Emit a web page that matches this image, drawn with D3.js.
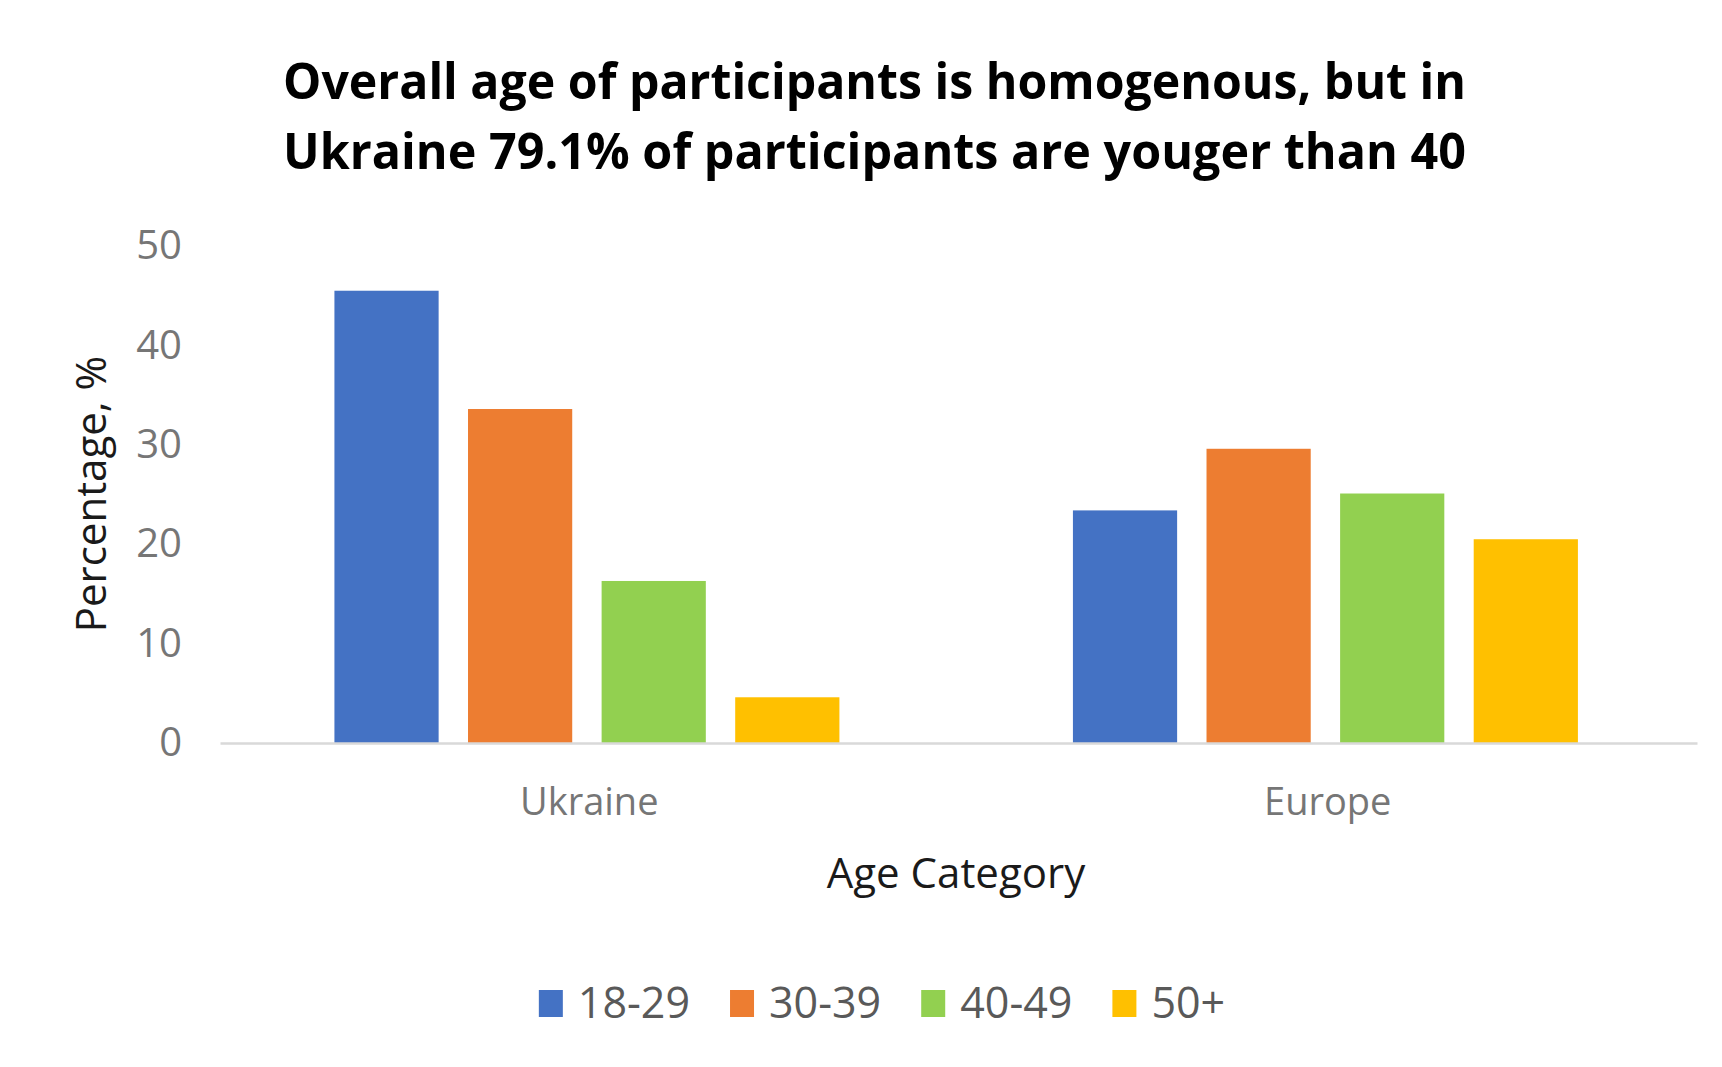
<!DOCTYPE html>
<html>
<head>
<meta charset="utf-8">
<script src="https://cdn.jsdelivr.net/npm/d3@7"></script>
<style>
  html, body { margin: 0; padding: 0; background: #fff; }
  svg { display: block; }
</style>
</head>
<body>
<script>
// ---- data ----
const categories = ["Ukraine", "Europe"];
const ageGroups = ["18-29", "30-39", "40-49", "50+"];
const ukraineValues = [45.5, 33.6, 16.3, 4.6];
const europeValues = [23.4, 29.6, 25.1, 20.5];
const yTickValues = [0, 10, 20, 30, 40, 50];
const titleLines = [
  "Overall age of participants is homogenous, but in",
  "Ukraine 79.1% of participants are youger than 40"
];
const yAxisTitle = "Percentage, %";
const xAxisTitle = "Age Category";
const seriesColors = ["#4472C4", "#ED7D31", "#92D050", "#FFC000"];

// ---- layout ----
const W = 1722, H = 1067;
const plot = { left: 220, right: 1697, top: 246, bottom: 743 };
const FONT = "'Open Sans', 'Noto Sans', sans-serif";

const rows = categories.map((c, i) => ({
  category: c,
  values: (i === 0 ? ukraineValues : europeValues)
}));

const svg = d3.select("body").append("svg")
  .attr("width", W).attr("height", H);

svg.append("rect").attr("width", W).attr("height", H).attr("fill", "#fff");

// title
svg.append("g").selectAll("text").data(titleLines).join("text")
  .attr("x", 874.5)
  .attr("y", (d, i) => 99 + i * 70)
  .attr("text-anchor", "middle")
  .attr("font-family", FONT)
  .attr("font-weight", 700)
  .attr("font-size", 50)
  .attr("fill", "#000")
  .attr("textLength", 1183)
  .attr("lengthAdjust", "spacingAndGlyphs")
  .text(d => d);

// scales
const y = d3.scaleLinear().domain([0, 50]).range([plot.bottom, plot.top]);
const x0 = d3.scaleBand().domain(categories).range([plot.left, plot.right])
  .paddingInner(0).paddingOuter(0);
const x1 = d3.scaleBand().domain(ageGroups).range([0, x0.bandwidth()])
  .paddingInner(0.22).paddingOuter(0.874).align(0.49);
const color = d3.scaleOrdinal().domain(ageGroups).range(seriesColors);

// y axis (labels only)
const yAxis = d3.axisLeft(y).tickValues(yTickValues).tickSize(0).tickPadding(0);
const yg = svg.append("g").attr("transform", `translate(182,0)`).call(yAxis);
yg.select(".domain").remove();
yg.selectAll("text")
  .attr("font-family", FONT)
  .attr("font-size", 40)
  .attr("fill", "#767676")
  .attr("dy", null)
  .attr("dominant-baseline", "middle")
  .attr("y", 2);

// bars
const groups = svg.append("g").selectAll("g").data(rows).join("g")
  .attr("transform", d => `translate(${x0(d.category)},0)`);
groups.selectAll("rect")
  .data(d => d.values.map((v, i) => ({ key: ageGroups[i], value: v })))
  .join("rect")
  .attr("x", d => x1(d.key))
  .attr("y", d => y(d.value))
  .attr("width", x1.bandwidth())
  .attr("height", d => y(0) - y(d.value))
  .attr("fill", d => color(d.key));

// x axis
const xAxis = d3.axisBottom(x0).tickSize(0).tickPadding(0);
const xg = svg.append("g").attr("transform", `translate(0,${plot.bottom})`).call(xAxis);
xg.select(".domain")
  .attr("stroke", "#d9d9d9")
  .attr("stroke-width", 2.5);
xg.selectAll("text")
  .attr("font-family", FONT)
  .attr("font-size", 38)
  .attr("fill", "#767676")
  .attr("dy", null)
  .attr("y", 72);

// axis titles
svg.append("text")
  .attr("transform", "translate(106,494) rotate(-90)")
  .attr("text-anchor", "middle")
  .attr("font-family", FONT)
  .attr("font-size", 42)
  .attr("fill", "#1a1a1a")
  .text(yAxisTitle);

svg.append("text")
  .attr("x", 956).attr("y", 888)
  .attr("text-anchor", "middle")
  .attr("font-family", FONT)
  .attr("font-size", 42)
  .attr("fill", "#1a1a1a")
  .text(xAxisTitle);

// legend
const legend = svg.append("g");
const items = legend.selectAll("g").data(ageGroups).join("g");
items.append("rect")
  .attr("width", 24).attr("height", 27)
  .attr("y", 990)
  .attr("fill", d => color(d));
items.append("text")
  .attr("x", 39).attr("y", 1018)
  .attr("font-family", FONT)
  .attr("font-size", 43)
  .attr("fill", "#595959")
  .text(d => d);
let cursor = 0;
const offsets = [];
items.each(function () {
  const tw = d3.select(this).select("text").node().getComputedTextLength();
  offsets.push(cursor);
  cursor += 39 + tw + 40;
});
const total = cursor - 40;
const start = 882 - total / 2;
items.attr("transform", (d, i) => `translate(${start + offsets[i]},0)`);
</script>
</body>
</html>
